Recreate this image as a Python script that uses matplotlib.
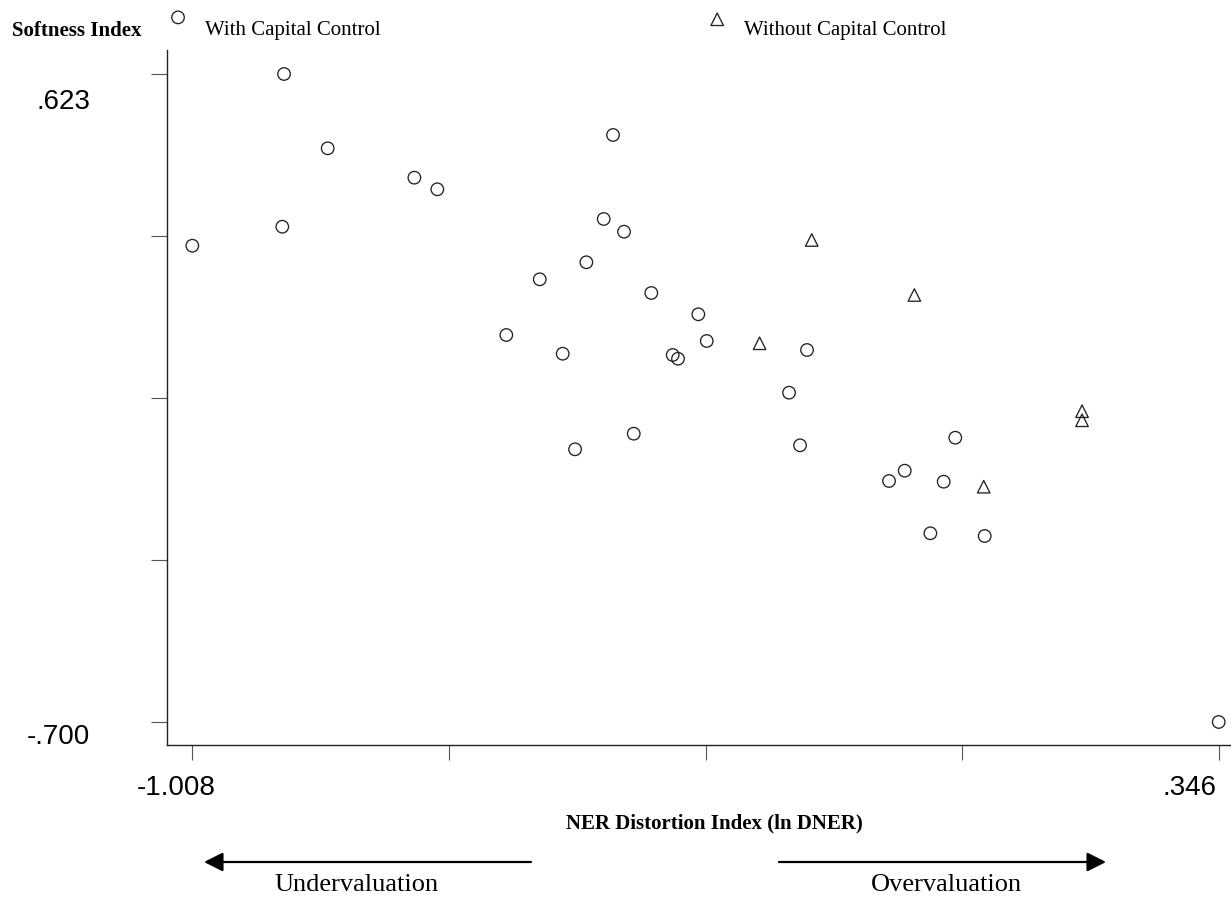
import matplotlib
matplotlib.use('Agg')
import matplotlib.pyplot as plt
from matplotlib.transforms import ScaledTranslation
from matplotlib.patches import FancyArrowPatch
from matplotlib.legend_handler import HandlerPathCollection
from matplotlib.font_manager import FontProperties

# ---- data ----
with_x = [-1.008, -0.887, -0.8893, -0.8294, -0.7151, -0.6848, -0.5938, -0.5497,
          -0.5194, -0.5031, -0.4882, -0.4653, -0.4530, -0.4385, -0.4257, -0.4025,
          -0.3743, -0.3673, -0.3405, -0.3294, -0.2208, -0.2063, -0.1971, -0.0889,
          -0.0682, -0.0344, -0.0168, -0.0015, 0.0373, 0.346]
with_y = [0.2724, 0.623, 0.3112, 0.4713, 0.4113, 0.3876, 0.0901, 0.2038,
          0.0519, -0.1433, 0.2386, 0.3270, 0.4985, 0.3010, -0.1114, 0.1759,
          0.0493, 0.0417, 0.1324, 0.0779, -0.0277, -0.1351, 0.0595, -0.2080,
          -0.1869, -0.3147, -0.2094, -0.1196, -0.3203, -0.700]
without_x = [-0.1909, -0.0555, -0.2597, 0.1657, 0.1657, 0.0360]
without_y = [0.2841, 0.1718, 0.0732, -0.0655, -0.0840, -0.2196]

x_ticks = [-1.008, -0.6695, -0.331, 0.0075, 0.346]
x_tick_labels = ['-1.008', '', '', '', '.346']
y_ticks = [0.623, 0.29225, -0.0385, -0.36925, -0.700]
y_tick_labels = ['.623', '', '', '', '-.700']

series_labels = ['With Capital Control', 'Without Capital Control']
x_title = 'NER Distortion Index (ln DNER)'
y_title = 'Softness Index'
arrow_labels = ['Undervaluation', 'Overvaluation']

W, H = 1231, 897
fig = plt.figure(figsize=(W / 100, H / 100), dpi=100)
fig.patch.set_facecolor('white')
ax = fig.add_axes([167 / W, 152 / H, 1064 / W, 695 / H])

mk_col = '#222222'
h1 = ax.scatter(with_x, with_y, s=81, marker='o', facecolors='none',
                edgecolors=mk_col, linewidths=0.95, label=series_labels[0],
                clip_on=False, zorder=3)
h2 = ax.scatter(without_x, without_y, s=81, marker='^', facecolors='none',
                edgecolors=mk_col, linewidths=0.95, label=series_labels[1],
                clip_on=False, zorder=3)

ax.set_xlim(-1.0414, 0.3622)
ax.set_ylim(-0.7470, 0.6720)

for s in ['top', 'right']:
    ax.spines[s].set_visible(False)
for s in ['left', 'bottom']:
    ax.spines[s].set_color('#222222')
    ax.spines[s].set_linewidth(1.0)

sans = 'Liberation Sans'
serif = 'Liberation Serif'

ax.set_xticks(x_ticks)
ax.set_xticklabels(x_tick_labels, family=sans, fontsize=20)
ax.set_yticks(y_ticks)
ax.set_yticklabels(y_tick_labels, family=sans, fontsize=20, va='center')
ax.tick_params(axis='x', direction='out', length=10.8, width=0.8, color='#555555', pad=10.8)
ax.tick_params(axis='y', direction='out', length=11.5, width=0.8, color='#555555', pad=43.9)

# per-label offsets (pixels: dx right, dy down)
xoffs = {0: (-16, 0), 4: (-29.5, 0)}
yoffs = {0: (0, 27.7), 4: (0, 15)}
for i, lab in enumerate(ax.get_xticklabels()):
    if i in xoffs:
        dx, dy = xoffs[i]
        lab.set_transform(lab.get_transform() + ScaledTranslation(dx / 100, -dy / 100, fig.dpi_scale_trans))
for i, lab in enumerate(ax.get_yticklabels()):
    if i in yoffs:
        dx, dy = yoffs[i]
        lab.set_transform(lab.get_transform() + ScaledTranslation(dx / 100, -dy / 100, fig.dpi_scale_trans))

# axis titles
ax.set_xlabel(x_title, family=serif, fontweight='bold', fontsize=15, va='baseline', ha='center')
ax.xaxis.set_label_coords((714 - 167) / 1064, (745 - 828) / 695)
ax.set_ylabel(y_title, family=serif, fontweight='bold', fontsize=15, rotation=0,
              va='baseline', ha='center')
ax.yaxis.set_label_coords((77 - 167) / 1064, (745 - 36) / 695)

# legend
leg = fig.legend(handles=[h1, h2], loc='upper left',
                 bbox_to_anchor=(167.6 / W, 1 - 20 / H), bbox_transform=fig.transFigure,
                 ncol=2, frameon=False, prop=FontProperties(family=serif, size=15),
                 handlelength=1.0, handletextpad=0.8, columnspacing=15.65,
                 borderpad=0, borderaxespad=0, scatterpoints=1,
                 handler_map={h1: HandlerPathCollection(yoffsets=[1.18]),
                              h2: HandlerPathCollection(yoffsets=[1.05])})

# direction arrows below the axis
def fpx(x, y):
    return (x / W, 1 - y / H)

for (xa, xb) in [(531, 204), (779, 1106)]:
    arr = FancyArrowPatch(fpx(xa, 862), fpx(xb, 862), transform=fig.transFigure,
                          arrowstyle='-|>,head_length=11.5,head_width=5.8',
                          mutation_scale=1, shrinkA=0, shrinkB=0,
                          color='black', linewidth=1.6)
    fig.patches.append(arr)

fig.text(356.5 / W, 1 - 890.7 / H, arrow_labels[0], family=serif, fontsize=19,
         ha='center', va='baseline')
fig.text(946 / W, 1 - 890.7 / H, arrow_labels[1], family=serif, fontsize=19,
         ha='center', va='baseline')

fig.savefig('out.png', dpi=100, facecolor='white')
